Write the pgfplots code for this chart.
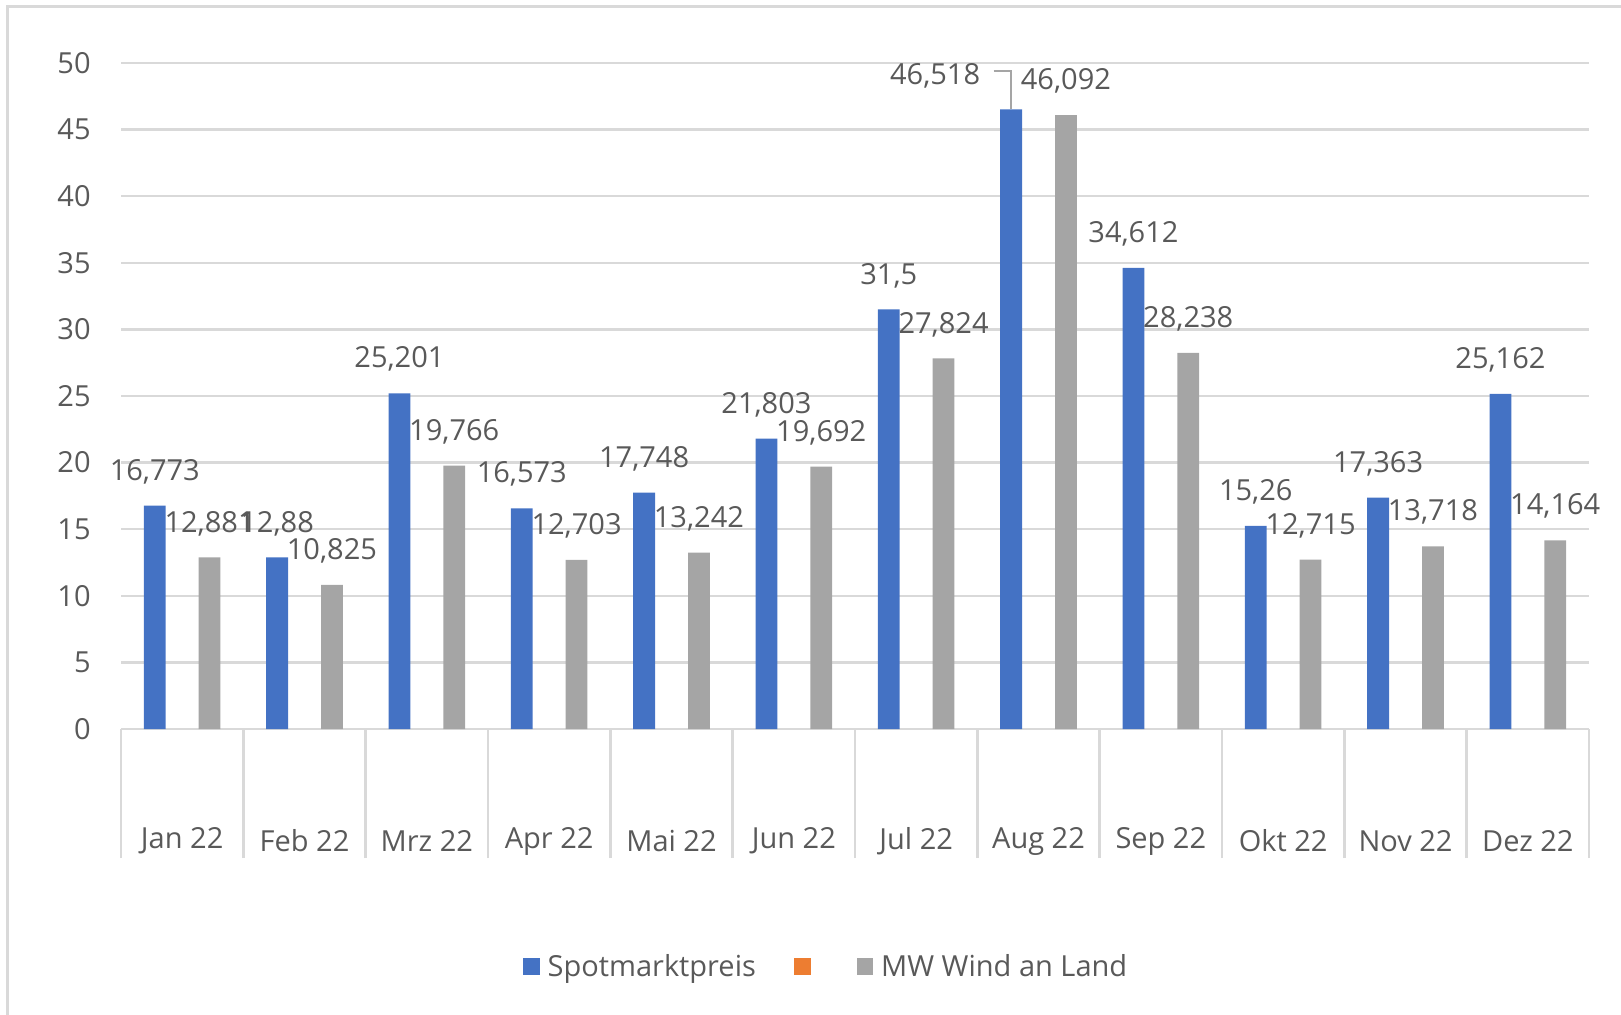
\documentclass[border=0pt]{standalone}
\usepackage{pgfplots}
\pgfplotsset{compat=1.18}
\usepackage{pgfplotstable}
\usepackage{fontspec}
\setmainfont{Open Sans}
\definecolor{sblue}{HTML}{4472C4}
\definecolor{sorange}{HTML}{ED7D31}
\definecolor{sgray}{HTML}{A5A5A5}
\definecolor{tgray}{HTML}{595959}
\definecolor{lgray}{HTML}{D9D9D9}

\pgfplotstableread{
x y dx
0 16.773 0
1 12.88 0
2 25.201 0
3 16.573 0
4 17.748 0
5 21.803 0
6 31.5 0
7 46.518 -38
8 34.612 0
9 15.26 0
10 17.363 0
11 25.162 0
}\spot
\pgfplotstableread{
x y dx
0 12.881 0
1 10.825 0
2 19.766 0
3 12.703 0
4 13.242 0
5 19.692 0
6 27.824 0
7 46.092 0
8 28.238 0
9 12.715 0
10 13.718 0
11 14.164 0
}\wind

\begin{document}
\begin{tikzpicture}[font=\fontsize{14.5}{17}\selectfont]
\useasboundingbox (-60.5pt,-142.5pt) rectangle (750pt,364.5pt);
\draw[lgray, line width=1.5pt] (-56.5pt,-143pt) -- (-56.5pt,361.25pt) -- (751pt,361.25pt);
\begin{axis}[
  at={(0pt,0pt)}, anchor=south west,
  scale only axis, width=734pt, height=333pt,
  xmin=-0.5, xmax=11.5, ymin=0, ymax=50,
  ytick={0,5,...,50},
  ymajorgrids, grid style={lgray, line width=1.2pt},
  axis line style={draw=none},
  tick pos=left, tick align=outside,
  major tick length=0pt,
  tick style={lgray, line width=1.2pt},
  xtick={0,...,11},
  xticklabels={Jan 22,Feb 22,Mrz 22,Apr 22,Mai 22,Jun 22,Jul 22,Aug 22,Sep 22,Okt 22,Nov 22,Dez 22},
  xticklabel style={anchor=center, yshift=-56pt, text=tgray},
  extra x ticks={-0.5,0.5,...,11.5},
  extra x tick labels={},
  extra x tick style={major tick length=64.5pt},
  yticklabel style={anchor=east, inner sep=0pt, xshift=-15pt, text=tgray},
  /pgf/number format/assume math mode=true,
  /pgf/number format/use comma,
  /pgf/number format/1000 sep={},
  sq legend/.style={legend image code/.code={\fill[##1] (0pt,-4.15pt) rectangle (8.3pt,4.15pt);}},
  legend columns=3,
  legend style={at={(0.481,-0.357)}, anchor=center, draw=none, fill=none,
    text=tgray, font=\fontsize{14.5}{17}\selectfont,
    /tikz/every odd column/.append style={column sep=2pt},
    /tikz/every even column/.append style={column sep=17pt}},
  nodes near coords={\pgfmathprintnumber[precision=3]{\pgfplotspointmeta}},
  nodes near coords align={anchor=center},
  every node near coord/.append style={text=tgray, font=\fontsize{14.5}{17}\selectfont},
]
\addplot[ybar, bar width=10.9pt, bar shift=-13.7pt, fill=sblue, draw=none, sq legend,
  visualization depends on={\thisrow{dx}-13.7 \as \dx},
  every node near coord/.append style={anchor=center, yshift=17pt, xshift=\dx pt}]
  table[x=x, y=y] {\spot};
\addlegendentry{Spotmarktpreis}
\addlegendimage{fill=sorange, draw=none, sq legend}
\addlegendentry{}
\addplot[ybar, bar width=10.9pt, bar shift=13.7pt, fill=sgray, draw=none, sq legend,
  every node near coord/.append style={anchor=center, yshift=17pt, xshift=13.7pt}]
  table[x=x, y=y] {\wind};
\addlegendentry{MW Wind an Land}
\draw[sgray, line width=0.9pt] ([xshift=-22.5pt, yshift=19pt]axis cs:7,46.518) -- ([xshift=-13.7pt, yshift=19pt]axis cs:7,46.518) -- ([xshift=-13.7pt]axis cs:7,46.518);
\end{axis}
\end{tikzpicture}
\end{document}
